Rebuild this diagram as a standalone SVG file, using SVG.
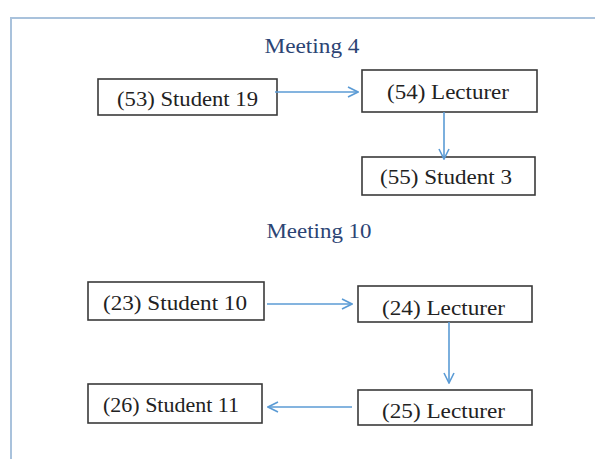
<svg xmlns="http://www.w3.org/2000/svg" width="595" height="459" viewBox="0 0 595 459">
<defs>
<style>
.box{fill:#fff;stroke:#3a3a3a;stroke-width:1.6}
.lbl{font-family:"Liberation Serif","Times New Roman",serif;font-size:20px;fill:#222;text-anchor:middle}
.ttl{font-family:"Liberation Serif","Times New Roman",serif;font-size:20px;fill:#2c4474;text-anchor:middle}
.con{stroke:#5b9bd5;stroke-width:1.6;fill:none}
</style>
<marker id="arr" viewBox="0 0 12 12" refX="11" refY="6" markerWidth="12" markerHeight="12" markerUnits="userSpaceOnUse" orient="auto">
<path d="M1,1 L11,6 L1,11" fill="none" stroke="#5b9bd5" stroke-width="1.6"/>
</marker>
</defs>
<rect width="595" height="459" fill="#fff"/>
<path d="M11,459 V18 H595" fill="none" stroke="#a9c2dc" stroke-width="2"/>
<text class="ttl" x="312" y="53" textLength="95" lengthAdjust="spacingAndGlyphs">Meeting 4</text>
<text class="ttl" x="319" y="238" textLength="105" lengthAdjust="spacingAndGlyphs">Meeting 10</text>
<g id="n53"><rect class="box" x="98" y="79" width="179" height="36"/><text class="lbl" x="187.5" y="106" textLength="141" lengthAdjust="spacingAndGlyphs">(53) Student 19</text></g>
<g id="n54"><rect class="box" x="362" y="70" width="175" height="42"/><text class="lbl" x="448" y="99" textLength="122" lengthAdjust="spacingAndGlyphs">(54) Lecturer</text></g>
<g id="n55"><rect class="box" x="362" y="157" width="173" height="38"/><text class="lbl" x="446" y="184" textLength="132" lengthAdjust="spacingAndGlyphs">(55) Student 3</text></g>
<g id="n23"><rect class="box" x="88" y="282" width="176" height="38"/><text class="lbl" x="175" y="310" textLength="144" lengthAdjust="spacingAndGlyphs">(23) Student 10</text></g>
<g id="n24"><rect class="box" x="358" y="286" width="174" height="36"/><text class="lbl" x="443.5" y="315" textLength="123" lengthAdjust="spacingAndGlyphs">(24) Lecturer</text></g>
<g id="n25"><rect class="box" x="358" y="390" width="174" height="35"/><text class="lbl" x="443.5" y="418" textLength="123" lengthAdjust="spacingAndGlyphs">(25) Lecturer</text></g>
<g id="n26"><rect class="box" x="88" y="384" width="174" height="39"/><text class="lbl" x="171" y="412" textLength="136" lengthAdjust="spacingAndGlyphs">(26) Student 11</text></g>
<g id="connectors">
<line class="con" x1="275" y1="92" x2="358" y2="92" marker-end="url(#arr)"/>
<line class="con" x1="444" y1="112" x2="444" y2="159" marker-end="url(#arr)"/>
<line class="con" x1="267" y1="304" x2="352" y2="304" marker-end="url(#arr)"/>
<line class="con" x1="449" y1="322" x2="449" y2="383" marker-end="url(#arr)"/>
<line class="con" x1="352" y1="407" x2="268" y2="407" marker-end="url(#arr)"/>
</g>
</svg>
